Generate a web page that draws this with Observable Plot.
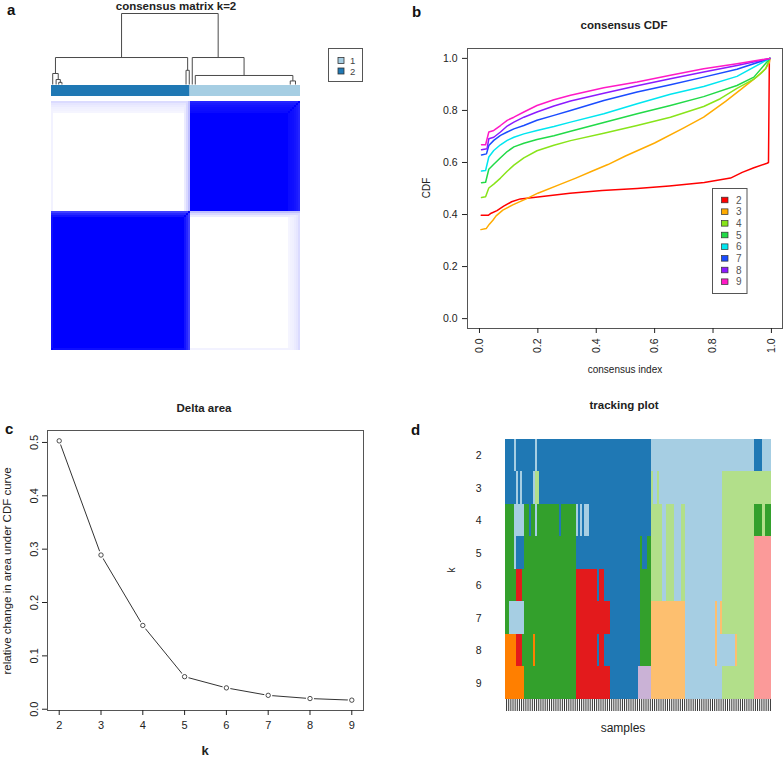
<!DOCTYPE html>
<html><head><meta charset="utf-8">
<script src="https://cdn.jsdelivr.net/npm/d3@7"></script>
<script src="https://cdn.jsdelivr.net/npm/@observablehq/plot@0.6"></script>
<style>
body{margin:0;background:#fff;}
#fig{position:relative;width:784px;height:758px;overflow:hidden;background:#fff;}
</style></head><body><div id="fig"></div>
<script>
// ================= DATA =================
const nSamples = 124;

// Panel a: consensus matrix k=2
const clusterLabels = ["1", "2"];
const clusterColors = ["#A6CEE3", "#1F78B4"];
const matrixBlockClusters = ["2", "1"];          // left-to-right order
const matrixBlockSizes = [69, 55];
const matrixAmbigSamples = [0, 66, 67, 68, 118, 119, 120, 121, 122, 123];
const matrixAmbigScores  = [0.05, 0.08, 0.15, 0.25, 0.04, 0.05, 0.06, 0.08, 0.10, 0.14];
// dendrogram merges: [node, left child, right child, height]; numbers are leaf positions (sample units)
const dendroMerges = [
  ["n1", 3.6, 5.2, 0.03],
  ["n2", 2.3, "n1", 0.07],
  ["n3", 0.6, "n2", 0.155],
  ["n4", 67.0, 68.6, 0.20],
  ["n5", "n3", "n4", 0.38],
  ["n6", 118.9, 121.5, 0.05],
  ["n7", 71.6, "n6", 0.127],
  ["n8", 70.1, "n7", 0.38],
  ["n9", "n5", "n8", 1.0]
];

// Panel b: consensus CDF
const cdfK = ["2","3","4","5","6","7","8","9"];
const cdfColors = ["#FF0000","#FFAB00","#88E41A","#22DA48","#00E6F0","#1A4CFF","#8C1AFF","#FF1AC6"];
const cdfTicks = [0, 0.2, 0.4, 0.6, 0.8, 1.0];
const cdfK2 = [[0.006,0.397],[0.03,0.397],[0.04,0.405],[0.06,0.415],[0.083,0.432],[0.11,0.449],[0.14,0.46],[0.2,0.467],[0.31,0.482],[0.42,0.492],[0.54,0.5],[0.65,0.51],[0.77,0.523],[0.86,0.54],[0.9,0.562],[0.94,0.58],[0.985,0.597],[0.99,0.6],[0.993,1.0]];
const cdfK3 = [[0.005,0.342],[0.023,0.346],[0.034,0.363],[0.046,0.378],[0.057,0.395],[0.08,0.417],[0.114,0.437],[0.16,0.46],[0.2,0.482],[0.274,0.515],[0.33,0.54],[0.387,0.567],[0.44,0.592],[0.5,0.625],[0.6,0.675],[0.7,0.733],[0.768,0.774],[0.843,0.835],[0.9,0.885],[0.94,0.92],[0.96,0.94],[0.98,0.96],[0.993,0.985],[0.995,1.0]];
const cdfK4 = [[0.007,0.465],[0.021,0.468],[0.032,0.502],[0.049,0.517],[0.072,0.54],[0.095,0.566],[0.118,0.59],[0.152,0.618],[0.197,0.645],[0.255,0.666],[0.312,0.684],[0.426,0.712],[0.54,0.742],[0.654,0.774],[0.768,0.815],[0.825,0.845],[0.882,0.885],[0.94,0.92],[0.963,0.941],[0.98,0.96],[0.995,1.0]];
const cdfK5 = [[0.007,0.522],[0.021,0.524],[0.032,0.574],[0.049,0.593],[0.072,0.618],[0.095,0.642],[0.118,0.66],[0.152,0.674],[0.197,0.688],[0.255,0.703],[0.312,0.72],[0.426,0.754],[0.54,0.787],[0.654,0.819],[0.768,0.853],[0.882,0.896],[0.94,0.928],[0.995,1.0]];
const cdfK6 = [[0.007,0.567],[0.021,0.569],[0.032,0.621],[0.049,0.646],[0.072,0.668],[0.095,0.685],[0.118,0.697],[0.152,0.71],[0.197,0.723],[0.255,0.738],[0.312,0.755],[0.426,0.787],[0.54,0.826],[0.654,0.862],[0.768,0.892],[0.882,0.931],[0.995,1.0]];
const cdfK7 = [[0.007,0.629],[0.024,0.633],[0.032,0.665],[0.049,0.685],[0.072,0.704],[0.095,0.717],[0.118,0.729],[0.152,0.742],[0.197,0.762],[0.255,0.781],[0.312,0.8],[0.426,0.838],[0.54,0.871],[0.654,0.899],[0.768,0.928],[0.882,0.958],[0.995,1.0]];
const cdfK8 = [[0.007,0.649],[0.026,0.653],[0.032,0.691],[0.049,0.697],[0.072,0.717],[0.095,0.74],[0.118,0.755],[0.152,0.774],[0.197,0.794],[0.255,0.817],[0.312,0.836],[0.426,0.866],[0.54,0.895],[0.654,0.922],[0.768,0.948],[0.882,0.973],[0.995,1.0]];
const cdfK9 = [[0.007,0.668],[0.021,0.668],[0.032,0.717],[0.049,0.723],[0.072,0.742],[0.095,0.762],[0.118,0.774],[0.152,0.794],[0.197,0.819],[0.255,0.841],[0.312,0.858],[0.426,0.887],[0.54,0.909],[0.654,0.935],[0.768,0.96],[0.882,0.979],[0.995,1.0]];
const cdfCurves = [cdfK2, cdfK3, cdfK4, cdfK5, cdfK6, cdfK7, cdfK8, cdfK9];

// Panel c: delta area
const deltaK = [2, 3, 4, 5, 6, 7, 8, 9];
const deltaArea = [0.503, 0.289, 0.157, 0.061, 0.040, 0.026, 0.020, 0.017];
const deltaTicks = [0, 0.1, 0.2, 0.3, 0.4, 0.5];

// Panel d: tracking plot (run-length cluster colour codes per k)
const trackK = [2, 3, 4, 5, 6, 7, 8, 9];
const trackCodes = ["b","B","g","G","P","R","o","O","L"];
const trackColors = ["#A6CEE3","#1F78B4","#B2DF8A","#33A02C","#FB9A99","#E31A1C","#FDBF6F","#FF7F00","#CAB2D6"];
const track2 = [["B",4],["b",1],["B",9],["b",1],["B",53],["b",48],["B",4],["b",4]];
const track3 = [["B",5],["b",1],["B",1],["b",1],["B",5],["b",1],["g",2],["B",52],["g",1],["b",2],["g",1],["b",29],["g",23]];
const track4 = [["G",4],["b",5],["G",2],["B",1],["G",2],["b",1],["G",10],["B",1],["G",7],["b",1],["B",1],["b",1],["B",1],["b",2],["B",29],["g",5],["b",2],["g",4],["b",3],["g",2],["b",17],["g",15],["G",4],["g",1],["G",3]];
const track5 = [["G",4],["b",1],["B",4],["G",24],["B",30],["G",1],["B",2],["G",2],["g",5],["b",2],["g",4],["b",3],["g",2],["b",17],["g",15],["P",8]];
const track6 = [["G",5],["R",3],["G",25],["R",10],["B",1],["R",2],["B",17],["G",5],["g",5],["b",2],["g",4],["b",3],["g",2],["b",17],["g",15],["P",8]];
const track7 = [["G",2],["b",7],["G",24],["R",16],["B",14],["G",5],["o",16],["b",14],["o",1],["b",1],["o",1],["g",15],["P",8]];
const track8 = [["O",5],["R",3],["G",5],["O",1],["G",19],["R",10],["B",1],["R",2],["B",17],["G",5],["o",16],["b",14],["o",1],["b",8],["o",1],["g",8],["P",8]];
const track9 = [["O",9],["G",24],["R",16],["B",13],["L",6],["o",16],["b",17],["g",15],["P",8]];
const trackRows = [track2, track3, track4, track5, track6, track7, track8, track9];

// ================= RENDER =================
const fig = document.getElementById("fig");
const FONT = "'Liberation Sans', Arial, Helvetica, sans-serif";
const baseStyle = {fontFamily: FONT, fontSize: "10px", color: "#222", background: "transparent", overflow: "visible"};
function place(node, left, top) {
  node.style.position = "absolute"; node.style.left = left + "px"; node.style.top = top + "px";
  fig.appendChild(node);
}

// ---- Panel a: dendrogram
const nodeX = {}, nodeH = {}, dendroSegs = [];
for (const [name, l, r, h] of dendroMerges) {
  const xl = typeof l === "string" ? nodeX[l] : l, hl = typeof l === "string" ? nodeH[l] : 0;
  const xr = typeof r === "string" ? nodeX[r] : r, hr = typeof r === "string" ? nodeH[r] : 0;
  dendroSegs.push({x1: xl, y1: hl, x2: xl, y2: h}, {x1: xl, y1: h, x2: xr, y2: h}, {x1: xr, y1: hr, x2: xr, y2: h});
  nodeX[name] = (xl + xr) / 2; nodeH[name] = h;
}
place(Plot.plot({
  width: 392, height: 85, marginLeft: 51, marginRight: 92, marginTop: 13, marginBottom: 1,
  x: {domain: [0, nSamples], axis: null}, y: {domain: [0, 1], axis: null}, style: baseStyle,
  marks: [Plot.link(dendroSegs, {x1: "x1", y1: "y1", x2: "x2", y2: "y2", stroke: "#4a4a4a", strokeWidth: 1})]
}), 0, 0);

// colour bar
const member = [];
const colorbarRows = [];
{ let s = 0; matrixBlockClusters.forEach((c, i) => {
    colorbarRows.push({cluster: c, start: s, end: s + matrixBlockSizes[i]});
    for (let k = 0; k < matrixBlockSizes[i]; k++) member.push(c);
    s += matrixBlockSizes[i];
}); }
place(Plot.plot({
  width: 392, height: 11, marginLeft: 51, marginRight: 92, marginTop: 0, marginBottom: 0,
  x: {domain: [0, nSamples], axis: null}, color: {domain: clusterLabels, range: clusterColors}, style: baseStyle,
  marks: [Plot.barX(colorbarRows, {x1: "start", x2: "end", fill: "cluster", inset: 0})]
}), 0, 85);

// consensus matrix (rows top->bottom are samples in reverse order)
const amb = new Array(nSamples).fill(0);
matrixAmbigSamples.forEach((s, i) => amb[s] = matrixAmbigScores[i]);
function consensus(i, j) {
  if (i === j) return 1;
  const a = Math.max(amb[i], amb[j]);
  return member[i] === member[j] ? 1 - a : a;
}
const matrixRuns = [];
for (let r = 0; r < nSamples; r++) {
  const si = nSamples - 1 - r;
  let start = 0, v = consensus(si, 0);
  for (let c = 1; c <= nSamples; c++) {
    const w = c < nSamples ? consensus(si, c) : null;
    if (w !== v) { matrixRuns.push({row: r, c1: start, c2: c, v}); start = c; v = w; }
  }
}
place(Plot.plot({
  width: 392, height: 249, marginLeft: 51, marginRight: 92, marginTop: 0, marginBottom: 0,
  x: {domain: [0, nSamples], axis: null}, y: {domain: [0, nSamples], reverse: true, axis: null},
  color: {type: "linear", domain: [0, 1], range: ["#ffffff", "#0000ff"]}, style: baseStyle,
  marks: [Plot.rect(matrixRuns, {x1: "c1", x2: "c2", y1: "row", y2: d => d.row + 1, fill: "v", inset: 0, shapeRendering: "crispEdges"})]
}), 0, 101);

// ---- Panel b: consensus CDF
const cdfRows = cdfCurves.flatMap((pts, i) => pts.map(([x, y]) => ({k: cdfK[i], x, y})));
place(Plot.plot({
  width: 392, height: 379, marginLeft: 75, marginRight: 2, marginTop: 48, marginBottom: 51,
  x: {domain: [-0.041, 1.038]}, y: {domain: [-0.038, 1.038]},
  color: {domain: cdfK, range: cdfColors}, style: baseStyle,
  marks: [
    Plot.frame({stroke: "#555"}),
    Plot.axisX({ticks: cdfTicks, tickFormat: ".1f", tickSize: 5, tickPadding: 5, tickRotate: -90, label: null, fontSize: 10.5}),
    Plot.axisY({ticks: cdfTicks, tickFormat: ".1f", tickSize: 5, tickPadding: 5, label: null, fontSize: 10.5}),
    Plot.line(cdfRows, {x: "x", y: "y", z: "k", stroke: "k", strokeWidth: 1.5})
  ]
}), 392, 0);

// ---- Panel c: delta area
const deltaRows = deltaK.map((k, i) => ({k, a: deltaArea[i]}));
place(Plot.plot({
  width: 392, height: 379, marginLeft: 47, marginRight: 29, marginTop: 51, marginBottom: 48,
  x: {domain: [1.72, 9.28]}, y: {domain: [-0.0024, 0.5224]}, style: baseStyle,
  marks: [
    Plot.frame({stroke: "#555"}),
    Plot.axisX({ticks: deltaK, tickSize: 5, tickPadding: 6, label: null, fontSize: 11}),
    Plot.axisY({ticks: deltaTicks, tickFormat: ".1f", tickSize: 5, tickPadding: 5, tickRotate: -90, label: null, fontSize: 11}),
    Plot.line(deltaRows, {x: "k", y: "a", stroke: "#333", strokeWidth: 1}),
    Plot.dot(deltaRows, {x: "k", y: "a", r: 4, fill: "white"}),
    Plot.dot(deltaRows, {x: "k", y: "a", r: 2.2, fill: "white", stroke: "#222", strokeWidth: 0.8})
  ]
}), 0, 379);

// ---- Panel d: tracking plot
const stripDepth = 0.37;
const trackRects = [];
trackRows.forEach((runs, row) => {
  let s = 0;
  for (const [code, n] of runs) { trackRects.push({row, code, start: s, end: s + n}); s += n; }
});
const sampleIdx = d3.range(nSamples);
place(Plot.plot({
  width: 392, height: 379, marginLeft: 113, marginRight: 13, marginTop: 60, marginBottom: 47,
  x: {domain: [0, nSamples], axis: null}, y: {domain: [0, trackK.length + stripDepth], reverse: true},
  color: {domain: trackCodes, range: trackColors}, style: baseStyle,
  marks: [
    Plot.rect(trackRects, {x1: "start", x2: "end", y1: "row", y2: d => d.row + 1, fill: "code", inset: 0, shapeRendering: "crispEdges"}),
    Plot.ruleX(sampleIdx, {x: d => d + 0.5, y1: trackK.length, y2: trackK.length + stripDepth, stroke: "#333", strokeWidth: 1}),
    Plot.axisY({ticks: trackK.map((k, i) => i + 0.5), tickFormat: d => trackK[Math.floor(d)], tickSize: 0, tickPadding: 24, label: null, fontSize: 10.5})
  ]
}), 392, 379);

// ---- Overlay: titles, labels, legends
const svg = d3.create("svg").attr("width", 784).attr("height", 758)
  .style("position", "absolute").style("left", "0px").style("top", "0px")
  .style("font-family", FONT).style("overflow", "visible");
function label(str, x, y, {size = 10, weight = "normal", anchor = "middle", rotate = 0, fill = "#222"} = {}) {
  svg.append("text").attr("transform", `translate(${x},${y}) rotate(${rotate})`)
    .attr("text-anchor", anchor).attr("font-size", size).attr("font-weight", weight).attr("fill", fill).text(str);
}
// panel letters
label("a", 7, 15, {size: 15, weight: "bold", anchor: "start", fill: "#111"});
label("b", 412, 17, {size: 15, weight: "bold", anchor: "start", fill: "#111"});
label("c", 5, 434, {size: 15, weight: "bold", anchor: "start", fill: "#111"});
label("d", 411, 435, {size: 15, weight: "bold", anchor: "start", fill: "#111"});
// titles
label("consensus matrix k=2", 176, 10, {size: 11.5, weight: "bold"});
label("consensus CDF", 624, 29, {size: 11.5, weight: "bold"});
label("Delta area", 204, 412, {size: 11.5, weight: "bold"});
label("tracking plot", 624, 409, {size: 11.5, weight: "bold"});
// axis titles
label("CDF", 430, 188, {size: 10, rotate: -90});
label("consensus index", 625, 373, {size: 10});
label("relative change in area under CDF curve", 10.5, 571, {size: 11.5, rotate: -90});
label("k", 205, 755, {size: 13, weight: "bold"});
label("k", 455, 570, {size: 10, rotate: -90});
label("samples", 623, 732, {size: 12});

// legend a
svg.append("rect").attr("x", 328.5).attr("y", 48.5).attr("width", 34).attr("height", 33).attr("fill", "white").attr("stroke", "#555");
clusterLabels.forEach((c, i) => {
  svg.append("rect").attr("x", 338).attr("y", 57.5 + i * 10.5).attr("width", 6).attr("height", 6)
    .attr("fill", clusterColors[i]).attr("stroke", "#333").attr("stroke-width", 0.8);
  label(c, 350, 64 + i * 10.5, {size: 9.5, anchor: "start", fill: "#444"});
});
// legend b
svg.append("rect").attr("x", 712.5).attr("y", 188.5).attr("width", 34.5).attr("height", 105).attr("fill", "white").attr("stroke", "#555");
cdfK.forEach((k, i) => {
  const cy = 200 + i * 11.67;
  svg.append("rect").attr("x", 721.5).attr("y", cy - 2.8).attr("width", 6.5).attr("height", 5.6)
    .attr("fill", cdfColors[i]).attr("stroke", "#333").attr("stroke-width", 0.7);
  label(k, 736, cy + 3.6, {size: 10, anchor: "start", fill: "#555"});
});
fig.appendChild(svg.node());
</script></body></html>
